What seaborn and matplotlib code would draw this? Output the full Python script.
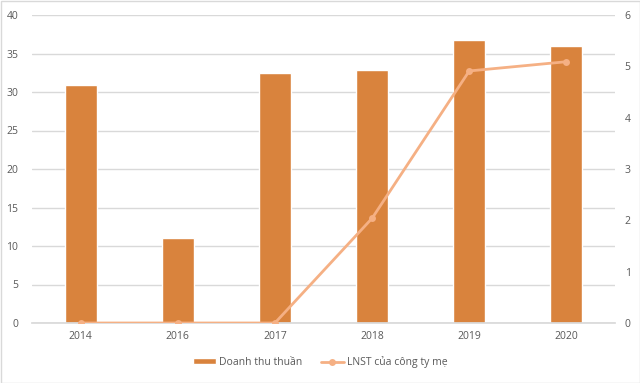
import matplotlib
matplotlib.use("Agg")
import matplotlib.pyplot as plt
import seaborn as sns
import pandas as pd
from matplotlib.patches import Rectangle

years = ["2014", "2016", "2017", "2018", "2019", "2020"]
revenue = [30.9, 11.0, 32.5, 32.8, 36.7, 36.0]
profit = [0.0, 0.0, 0.0, 2.04, 4.91, 5.09]
bar_label = "Doanh thu thuần"
line_label = "LNST của công ty mẹ"

sns.set_theme(style="white")
plt.rcParams["font.family"] = ["Open Sans", "DejaVu Sans"]

bar_color = "#D9833D"
line_color = "#F5B084"
text_color = "#595959"
grid_color = "#D9D9D9"

df = pd.DataFrame({"year": years, "revenue": revenue, "profit": profit})

fig = plt.figure(figsize=(6.4, 3.83), dpi=100)
ax = fig.add_axes([32/640, 1-323/383, (615-32)/640, (323-15)/383])
sns.barplot(data=df, x="year", y="revenue", color=bar_color, width=0.33,
            saturation=1, ax=ax, label=bar_label, zorder=2)
ax.set_ylim(0, 40)
ax.set_yticks(range(0, 41, 5))
ax.set_xlim(-0.5, 5.5)
ax.grid(axis="y", color=grid_color, linewidth=1)
ax.set_axisbelow(True)
for s in ["top", "right", "left"]:
    ax.spines[s].set_visible(False)
ax.spines["bottom"].set_color(grid_color)
ax.set_xlabel("")
ax.set_ylabel("")
ax.tick_params(axis="both", length=0, labelsize=7.5, colors=text_color)
ax.tick_params(axis="y", pad=10)
ax.tick_params(axis="x", pad=6)

ax2 = ax.twinx()
sns.lineplot(data=df, x="year", y="profit", color=line_color, linewidth=2,
             marker="o", markersize=5, markeredgewidth=0, ax=ax2,
             label=line_label, zorder=3)
ax2.set_ylim(0, 6)
ax2.set_yticks(range(0, 7))
ax2.set_xlim(-0.5, 5.5)
ax2.set_ylabel("")
for s in ["top", "right", "left", "bottom"]:
    ax2.spines[s].set_visible(False)
ax2.tick_params(axis="y", length=0, labelsize=7.5, colors=text_color, pad=7)
if ax2.get_legend():
    ax2.get_legend().remove()
if ax.get_legend():
    ax.get_legend().remove()

h1, l1 = ax.get_legend_handles_labels()
h2, l2 = ax2.get_legend_handles_labels()
fig.legend(h1 + h2, l1 + l2, loc="center", bbox_to_anchor=(0.5, 1-362/383),
           ncol=2, frameon=False, fontsize=7.5, labelcolor=text_color,
           handlelength=2.2, handleheight=0.45, columnspacing=1.8, handletextpad=0.3)

fig.patches.append(Rectangle((0.5/640, 0.5/383), 1-1/640, 1-1/383,
                             transform=fig.transFigure, fill=False,
                             edgecolor=grid_color, linewidth=1))
fig.savefig("out.png", dpi=100)
